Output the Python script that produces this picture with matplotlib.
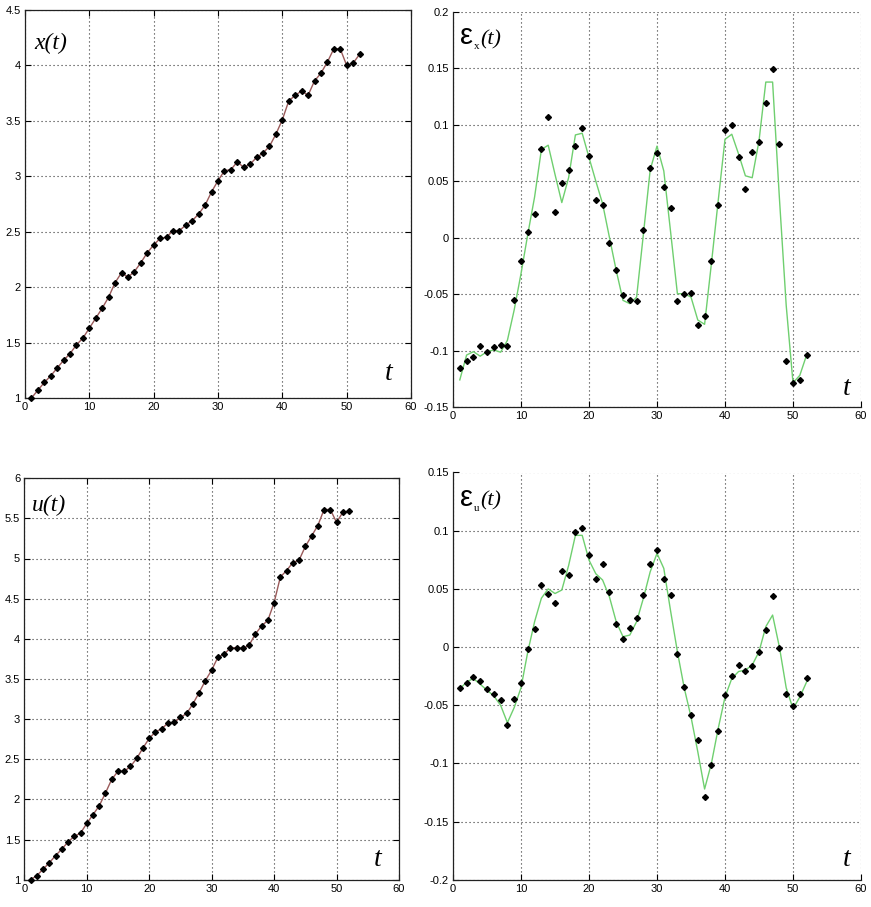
import numpy as np
import matplotlib
matplotlib.use("Agg")
import matplotlib.pyplot as plt
from matplotlib.ticker import FuncFormatter, MultipleLocator
from matplotlib.transforms import IdentityTransform

# ---------------- data ----------------
t = np.arange(1, 53)

x_vals = [1.00, 1.07, 1.14, 1.20, 1.27, 1.34, 1.40, 1.48, 1.54, 1.63,
          1.72, 1.81, 1.91, 2.04, 2.13, 2.09, 2.14, 2.22, 2.31, 2.38,
          2.44, 2.45, 2.51, 2.51, 2.56, 2.60, 2.66, 2.74, 2.86, 2.96,
          3.05, 3.06, 3.13, 3.08, 3.11, 3.17, 3.21, 3.27, 3.38, 3.51,
          3.68, 3.73, 3.77, 3.73, 3.86, 3.93, 4.03, 4.15, 4.15, 4.00,
          4.02, 4.10]

u_vals = [1.00, 1.05, 1.13, 1.21, 1.30, 1.38, 1.47, 1.54, 1.58, 1.70,
          1.81, 1.92, 2.08, 2.25, 2.35, 2.35, 2.41, 2.51, 2.64, 2.76,
          2.84, 2.88, 2.95, 2.96, 3.02, 3.07, 3.19, 3.33, 3.48, 3.61,
          3.77, 3.81, 3.885, 3.89, 3.88, 3.92, 4.06, 4.16, 4.23, 4.45,
          4.77, 4.85, 4.95, 4.98, 5.15, 5.28, 5.41, 5.61, 5.61, 5.45,
          5.575, 5.59]

ex_obs = [-0.1156, -0.109, -0.106, -0.096, -0.1015, -0.097, -0.0947, -0.096, -0.055, -0.0206,
          0.005, 0.0212, 0.078, 0.107, 0.0223, 0.048, 0.060, 0.0815, 0.0968, 0.0724,
          0.0335, 0.0285, -0.0047, -0.0288, -0.0512, -0.0556, -0.0562, 0.007, 0.062, 0.0753,
          0.0444, 0.026, -0.0565, -0.050, -0.0494, -0.0777, -0.0694, -0.0209, 0.0285, 0.0956,
          0.0997, 0.0712, 0.0426, 0.0762, 0.0844, 0.119, 0.1497, 0.0832, -0.109, -0.1286,
          -0.126, -0.104]

ex_fit = [-0.126, -0.104, -0.101, -0.105, -0.101, -0.0995, -0.1015, -0.091, -0.064, -0.032,
          0.003, 0.036, 0.078, 0.0818, 0.056, 0.031, 0.053, 0.0909, 0.0924, 0.0709,
          0.050, 0.030, 0.0003, -0.029, -0.0556, -0.0585, -0.0527, 0.003, 0.060, 0.081,
          0.059, 0.005, -0.0497, -0.0497, -0.0527, -0.073, -0.0768, -0.023, 0.0326, 0.087,
          0.0915, 0.0739, 0.0547, 0.053, 0.0856, 0.1377, 0.1377, 0.035, -0.06, -0.1286,
          -0.122, -0.104]

eu_obs = [-0.035, -0.031, -0.026, -0.029, -0.036, -0.040, -0.0455, -0.067, -0.045, -0.031,
          -0.0015, 0.0155, 0.0535, 0.046, 0.038, 0.0656, 0.0616, 0.0985, 0.1025, 0.0788,
          0.0587, 0.0716, 0.0472, 0.0195, 0.0069, 0.0166, 0.0246, 0.0447, 0.071, 0.083,
          0.0584, 0.045, -0.006, -0.034, -0.058, -0.080, -0.129, -0.101, -0.072, -0.041,
          -0.025, -0.015, -0.0206, -0.0163, -0.0043, 0.0143, 0.0438, -0.0006, -0.040, -0.051,
          -0.040, -0.027]

eu_fit = [-0.036, -0.030, -0.027, -0.032, -0.037, -0.042, -0.050, -0.065, -0.052, -0.035,
          -0.004, 0.0218, 0.042, 0.050, 0.046, 0.049, 0.070, 0.096, 0.096, 0.0747,
          0.063, 0.0576, 0.0432, 0.0218, 0.0089, 0.0103, 0.0218, 0.042, 0.0647, 0.0805,
          0.0676, 0.031, -0.004, -0.035, -0.060, -0.090, -0.122, -0.100, -0.070, -0.043,
          -0.027, -0.021, -0.0198, -0.0155, -0.004, 0.0175, 0.0275, 0.000, -0.035, -0.053,
          -0.043, -0.030]

# ---------------- figure ----------------
W, H = 871, 907
fig = plt.figure(figsize=(W / 100, H / 100), dpi=100)
fig.patch.set_facecolor("white")

def rect(l, r, top, bot):
    return [l / W, 1 - bot / H, (r - l) / W, (bot - top) / H]

ax_x = fig.add_axes(rect(25, 411, 10, 398))
ax_ex = fig.add_axes(rect(453, 861, 11.7, 407))
ax_u = fig.add_axes(rect(24.3, 399, 478.2, 879.7))
ax_eu = fig.add_axes(rect(453, 861, 472.5, 879.8))

fmt = FuncFormatter(lambda v, p: "%g" % round(v, 6))
GRID = dict(color="#333333", linestyle=(0, (1, 2.6)), linewidth=0.8)
LINE_BROWN = "#9a5a5a"
LINE_GREEN = "#6fcf6f"

def style(ax, ylim, ystep, box=True):
    ax.set_xlim(0, 60)
    ax.set_ylim(*ylim)
    ax.xaxis.set_major_locator(MultipleLocator(10))
    ax.yaxis.set_major_locator(MultipleLocator(ystep))
    ax.xaxis.set_major_formatter(fmt)
    ax.yaxis.set_major_formatter(fmt)
    ax.grid(True, **GRID)
    ax.set_axisbelow(True)
    ax.tick_params(direction="in", length=4, width=0.8, labelsize=8,
                   top=box, right=box, pad=3)
    for lab in ax.get_xticklabels() + ax.get_yticklabels():
        lab.set_fontfamily("Liberation Sans")
    for side, sp in ax.spines.items():
        sp.set_color("#222222")
        sp.set_linewidth(0.9)
        if not box and side in ("top", "right"):
            sp.set_visible(False)

style(ax_x, (1, 4.5), 0.5, box=True)
style(ax_u, (1, 6), 0.5, box=True)
style(ax_ex, (-0.15, 0.2), 0.05, box=False)
style(ax_eu, (-0.2, 0.15), 0.05, box=False)

# left panels: line through points
for ax, vals in ((ax_x, x_vals), (ax_u, u_vals)):
    ax.plot(t, vals, color=LINE_BROWN, lw=1.0, zorder=3)
    ax.plot(t, vals, linestyle="none", marker="D", ms=3.0, color="black",
            zorder=4, clip_on=False)

# right panels: fitted line + observed points
for ax, fit, obs in ((ax_ex, ex_fit, ex_obs), (ax_eu, eu_fit, eu_obs)):
    ax.plot(t, fit, color=LINE_GREEN, lw=1.0, zorder=3)
    ax.plot(t, obs, linestyle="none", marker="D", ms=3.0, color="black",
            zorder=4, clip_on=False)

# ---------------- labels ----------------
SERIF_IT = dict(family="Liberation Serif", style="italic")

ax_x.text(0.023, 0.915, "x(t)", transform=ax_x.transAxes, fontsize=17,
          va="center", ha="left", **SERIF_IT)
ax_u.text(0.02, 0.931, "u(t)", transform=ax_u.transAxes, fontsize=17,
          va="center", ha="left", bbox=dict(facecolor="white", edgecolor="none", pad=1),
          **SERIF_IT)

ax_x.text(56.0, 1.16, "t", fontsize=20, ha="left", va="baseline", **SERIF_IT)
ax_ex.text(57.3, -0.1395, "t", fontsize=20, ha="left", va="baseline", **SERIF_IT)
ax_u.text(56.0, 1.17, "t", fontsize=20, ha="left", va="baseline", **SERIF_IT)
ax_eu.text(57.3, -0.188, "t", fontsize=20, ha="left", va="baseline", **SERIF_IT)

renderer = fig.canvas.get_renderer()

def eps_label(ax, xfrac, yfrac, sub):
    e = ax.text(xfrac, yfrac, "\u03b5", transform=ax.transAxes, fontsize=21,
                family="Liberation Sans", ha="left", va="baseline")
    bb = e.get_window_extent(renderer)
    x0 = bb.x1 + 0.5
    base = ax.transAxes.transform((xfrac, yfrac))[1]
    s = fig.text(x0, base - 5, sub, transform=IdentityTransform(), fontsize=8,
                 family="Liberation Serif", ha="left", va="baseline")
    bb2 = s.get_window_extent(renderer)
    fig.text(bb2.x1 + 1, base, "(t)", transform=IdentityTransform(), fontsize=16,
             ha="left", va="baseline", **SERIF_IT)

eps_label(ax_ex, 0.017, 0.918, "x")
eps_label(ax_eu, 0.017, 0.918, "u")

fig.savefig("out.png", dpi=100, facecolor="white")
